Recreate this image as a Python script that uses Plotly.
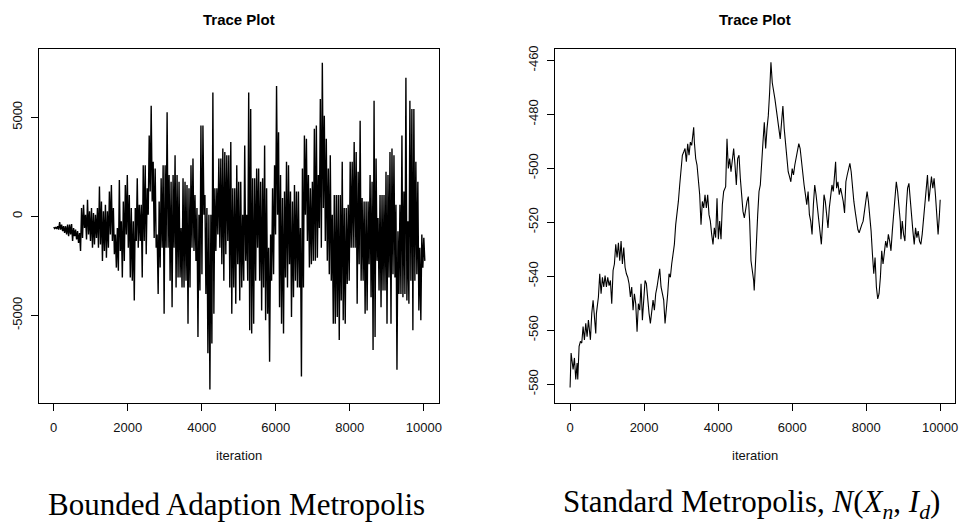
import numpy as np
import plotly.graph_objects as go

# ---------------- data: Bounded Adaption Metropolis (left) ----------------
# per-window upper / lower extent of the trace, 187 windows over 0..10000 iterations
left_hi = [-550, -540, -500, -290, -420, -500, -500, -420, -420, -390, -590, -670, -750, -840, 420, 580,
           80, 830, 250, 420, 170, 80, 420, 1500, 750, 250, 580, 250, 1250, 1580, 420, -920, -590, 1830,
           -250, 750, 1580, 2080, 1080, 420, -250, 420, 1920, 580, 580, 2580,
           2580, 1420, 4080, 5580, 2750, 2420, -920, 750, 1920, 2580, 2580, 5250, 2080, 1750, 2080, 3080,
           2080, 1750, -590, 1920, 1750, 1580, 1420, 2580, 2920, 1080, 420, 80, 4580, 4580, 1080, 420, 80,
           80, 6250, 1420, 1420, 2920, 2920, 3420, 3250, 3080, 3080, 3750, 1420, 1420, 2580,
           1750, 1750, 80, 3580, 80, 6250, 5420, 1920, 1920, 2420, 2420, 1750, 1920, 3580, 1420, -1590,
           -920, 1420, 2580, 6580, 4250, 2080, 920, 1250, 2750, 2580, 1250, 750, 1580, 1250, 1250, -590,
           2420, 4080, 3920, 2080, 1420, 1750, 4420, 4580, 2080, 5920, 7750, 5080, 3920, 2420,
           3080, 80, 1080, 1080, 1080, 1080, 2750, 420, 420, 580, 2750, 2750, 3750, 3250, 2250, 4830, 920,
           750, 750, 750, 2080, 1750, 5830, 2920, -90, 1080, 1080, 1080, 2250, 2080, 3250, 3420, 3080, 580,
           -750, 580, 4080, 1250, 7000, -250, 5830, 5420, 5420, 2750, 1750, -1590, -920, -1090]
left_lo = [-620, -640, -670, -670, -750, -840, -920, -1000, -920, -1250, -1000, -1170, -1340, -1750, -1090,
           -590, -1170, -920, -1250, -1590, -1420, -1090, -1590, -1420, -2250, -1750, -2090, -1590, -920,
           -1250, -1920, -2590, -2750, -1750, -3090, -2250, -920, -1590, -3090, -3250, -4250, -1250, -1590,
           -1250, -3090, -1250,
           -1920, 80, 1250, 750, -1090, -1590, -3920, -2590, -1590, -4920, -1590, -1590, -3250, -4590, -1590,
           -3590, -3090, -3090, -3590, -3590, -3250, -5420, -3590, -1590, -1750, -2250, -6090, -3750, -2920,
           80, -3920, -6920, -8750, -6420, -4920, -1750, -920, -1590, -2420, -3250, -1920, -1250, -3590,
           -4920, -3590, -4420, -2420,
           -4250, -3590, -3250, -2250, -3250, -5750, -5920, -5420, -3250, -1590, -3250, -4750, -3590, -5250,
           -4920, -7340, -3250, -2920, -920, 80, -4590, -5420, -5920, -3090, -3590, -2420, -5090, -4090,
           -3250, -3590, -3590, -8090, -3590, 80, -1250, -2590, -2420, -2250, -2250, -2090, -590, -1590, 420,
           -1250, -2250, -2920,
           -3250, -5420, -5420, -5090, -6250, -4250, -5250, -5420, -3420, -3250, -1590, -1590, -1590, -4420,
           -2420, -3250, -3250, -4920, -4750, -2420, -4090, -6750, -6090, -2250, -3750, -4590, -3750, -3750,
           -5420, -3090, -5420, -2920, -3090, -7750, -3920, -3920, -4090, -3920, -4250, -4420, -3250, -5750,
           -3250, -2920, -4750, -5250, -2590, -2250]

# ---------------- data: Standard Metropolis (right) ----------------
right_iter = [0, 28, 82, 118, 154, 190, 208, 244, 280, 316, 352, 388, 424, 460, 496, 550, 586, 622, 658, 694,
              712, 766, 802, 838, 874, 910, 946, 982, 1018, 1054, 1090, 1126, 1162, 1198, 1234, 1270, 1306,
              1342, 1378, 1414, 1450, 1486, 1522, 1558, 1594, 1630, 1666, 1702, 1738, 1774, 1810, 1846, 1882,
              1918, 1954, 1990, 2026, 2062, 2098, 2134, 2170, 2206, 2242, 2278, 2314, 2350, 2386, 2422, 2458,
              2494, 2530, 2566, 2602, 2638, 2674, 2710, 2746, 2782, 2818, 2854, 2890, 2926, 2962, 2998, 3034,
              3070, 3106, 3142, 3178, 3214, 3250, 3286, 3322, 3340, 3358, 3394, 3430, 3466, 3502, 3538, 3574,
              3610, 3646, 3682, 3718, 3754, 3790, 3826, 3862, 3898, 3934, 3970, 4006, 4042, 4078, 4114, 4150,
              4204, 4240, 4276, 4312, 4348, 4384, 4420, 4456, 4492, 4528, 4564, 4600, 4636, 4672, 4708, 4744,
              4780, 4816, 4852, 4888, 4924, 4960,
              4975, 5000, 5033, 5069, 5105, 5140, 5176, 5212, 5248, 5284, 5320, 5356, 5391, 5427, 5463, 5499,
              5535, 5571, 5606, 5642, 5678, 5714, 5750, 5786, 5821, 5857, 5893, 5929, 5965, 6001, 6036, 6072,
              6108, 6144, 6180, 6216, 6251, 6287, 6323, 6359, 6395, 6431, 6466, 6502, 6538, 6574, 6610, 6646,
              6681, 6717, 6753, 6789, 6825, 6861, 6896, 6932, 6968, 7004, 7040, 7076, 7111, 7147, 7174, 7201,
              7237, 7273, 7309, 7345, 7380, 7416, 7452, 7488, 7524, 7560, 7595, 7631, 7667, 7703, 7739, 7775,
              7810, 7846, 7882, 7918, 7954, 7990, 8025, 8061, 8097, 8133, 8169, 8205, 8240, 8276, 8312, 8348,
              8384, 8420, 8455, 8491, 8527, 8563, 8599, 8635, 8670, 8706, 8742, 8778, 8814, 8850, 8885, 8921,
              8939, 8975, 9011, 9047, 9083, 9119, 9155, 9190, 9226, 9262, 9298, 9334, 9370, 9405, 9441, 9477,
              9513, 9549, 9585, 9620, 9656, 9692, 9728, 9764, 9800, 9835, 9871, 9907, 9943, 9979, 10000]
right_val = [-581.3, -568.5, -574.6, -570.3, -578.3, -572.2, -578.3, -566, -564.2, -564.8, -558.7, -563.6,
             -557.5, -562.4, -556.3, -563.6, -553.8, -548.9, -555, -561.2, -553.8, -547.7, -539.1, -546.5,
             -540.4, -544, -539.8, -544, -540.4, -543.5, -541.6, -550.2, -537.9, -535.5, -528.2, -533.1,
             -527.6, -534.3, -527, -535.5, -529.4, -536.7, -539.1, -540.4, -542.8, -547.7, -544, -552.6,
             -546.5, -550.2, -560.6, -550.2, -552.6, -542.8, -556.3, -548.9, -541.6, -542.8, -548.9, -553.8,
             -557.5, -553.8, -548.9, -552.6, -546.5, -544, -540.4, -537.3, -544, -546.5, -548.9, -557.5,
             -552.6, -546.5, -539.1, -540.4, -535.5, -532.4, -528.2, -520.9, -517.2, -512.3, -506.2, -498.8,
             -495.2, -494, -492.7, -497.6, -490.9, -495.2, -490.3, -491.5, -487.8, -484.8, -490.3, -496.4,
             -498.8, -503.7, -509.8, -520.9, -512.3, -514.7, -509.8, -514.7, -509.8, -517.2, -519.6, -524.5,
             -528.2, -522.1, -525.7, -511.1, -526.3, -519.6, -526.3, -513.5, -508.6, -506.8, -489.1, -500.1,
             -496.4, -501.3, -497.6, -492.7, -498.8, -506.2, -496.4, -495.2, -503.7, -509.8, -516, -518.4,
             -514.7, -512.3, -510.5, -519.6, -534.3, -537.3, -541.6,
             -545.3, -534.3, -528.2, -517.2, -508.6, -506.2, -496.4, -490.3, -483, -492.7, -485.4, -480.5,
             -472, -460.7, -468.3, -470.7, -474.4, -478.1, -481.8, -484.2, -489.1, -483, -476.9, -485.4,
             -491.5, -497.6, -501.3, -503.1, -505, -500.1, -502.5, -498.8, -496.4, -494, -490.9, -492.7,
             -497.6, -503.7, -506.2, -509.8, -513.5, -508.6, -517.2, -519.6, -524.5, -513.5, -506.2, -509.8,
             -514.7, -518.4, -524.5, -528.2, -519.6, -509.8, -512.3, -517.2, -522.1, -514.7, -509.8, -506.2,
             -508.6, -503.7, -497.6, -507.4, -505, -509.8, -507.4, -509.8, -512.3, -516.6, -505, -502.5,
             -500.1, -498.2, -501.3, -507.4, -512.3, -516, -519.6, -522.7, -523.9, -522.1, -520.9, -519.6,
             -516, -512.3, -508.6, -512.3, -517.2, -523.3, -531.8, -539.1, -533.1, -544, -548.4, -546.5,
             -540.4, -530.6, -535.5, -531.8, -527, -529.4, -524.5, -527, -530.6, -523.3, -517.2, -509.8,
             -505, -508.6, -513.5, -519.6, -526.3, -519.6, -524.5, -527, -514.7, -507.4, -505.6, -512.3,
             -517.2, -523.3, -528.2, -522.1, -525.7, -523.3, -527, -528.2, -524.5, -519.6, -514.7, -507.4,
             -502.5, -512.3, -506.2, -503.1, -507.4, -503.7, -509.8, -517.2, -524.5, -517.2, -511.7]

x_ticks = [0, 2000, 4000, 6000, 8000, 10000]
left_y_ticks = [-5000, 0, 5000]
right_y_ticks = [-580, -560, -540, -520, -500, -480, -460]
panel_title = "Trace Plot"
x_label = "iteration"
caption_left = "Bounded Adaption Metropolis"
caption_right = "Standard Metropolis, <i>N</i>(<i>X</i><sub><i>n</i></sub>, <i>I</i><sub><i>d</i></sub>)"

# iteration index of each window (trace x is the iteration counter)
n_win = len(left_hi)
step = 10000 / (n_win - 1)
left_x = []
left_y = []
for k in range(n_win):
    left_x += [k * step, k * step + step * 0.5]
    left_y += [left_hi[k], left_lo[k]]

fig = go.Figure()
fig.add_trace(go.Scatter(x=left_x, y=left_y, mode="lines",
                         line=dict(color="black", width=1.4), xaxis="x", yaxis="y",
                         hoverinfo="skip", showlegend=False))
fig.add_trace(go.Scatter(x=right_iter, y=right_val, mode="lines",
                         line=dict(color="black", width=1.1), xaxis="x2", yaxis="y2",
                         hoverinfo="skip", showlegend=False))

W, H = 960, 525
tickfont = dict(family="Liberation Sans, Arial, sans-serif", size=13, color="#111")
ydom = [1 - 402 / H, 1 - 46 / H]
common = dict(showline=True, linecolor="black", linewidth=1, mirror=True,
              ticks="outside", ticklen=7, tickwidth=1, tickcolor="black",
              showgrid=False, zeroline=False, tickfont=tickfont)

fig.update_layout(
    width=W, height=H,
    margin=dict(l=0, r=0, t=0, b=0),
    paper_bgcolor="white", plot_bgcolor="white",
    xaxis=dict(domain=[39 / W, 440 / W], range=[-400, 10400], tickvals=x_ticks,
               ticktext=[str(v) for v in x_ticks], anchor="y", ticklabelstandoff=6, **common),
    yaxis=dict(domain=ydom, range=[-9412, 8462], tickvals=left_y_ticks,
               ticktext=[str(v) for v in left_y_ticks], tickangle=-90, anchor="x",
               ticklabelstandoff=4, **common),
    xaxis2=dict(domain=[557 / W, 958 / W], range=[-400, 10400], tickvals=x_ticks,
                ticktext=[str(v) for v in x_ticks], anchor="y2", ticklabelstandoff=6, **common),
    yaxis2=dict(domain=ydom, range=[-586.9, -455.7], tickvals=right_y_ticks,
                ticktext=[str(v) for v in right_y_ticks], tickangle=-90, anchor="x2",
                ticklabelstandoff=4, **common),
)

ann_font = dict(family="Liberation Sans, Arial, sans-serif", size=15, color="black")
lab_font = dict(family="Liberation Sans, Arial, sans-serif", size=13, color="#111")
cap_font = dict(family="Liberation Serif, Times New Roman, serif", size=31, color="black")
for cx in [(39 + 440) / 2 / W, (557 + 958) / 2 / W]:
    fig.add_annotation(text="<b>" + panel_title + "</b>", x=cx, y=1 - 17 / H, xref="paper", yref="paper",
                       xanchor="center", yanchor="middle", showarrow=False, font=ann_font)
    fig.add_annotation(text=x_label, x=cx, y=1 - 455 / H, xref="paper", yref="paper",
                       xanchor="center", yanchor="middle", showarrow=False, font=lab_font)

fig.add_annotation(text=caption_left, x=237 / W, y=1 - 504 / H, xref="paper", yref="paper",
                   xanchor="center", yanchor="middle", showarrow=False, font=cap_font)
fig.add_annotation(text=caption_right, x=754 / W, y=1 - 504 / H, xref="paper", yref="paper",
                   xanchor="center", yanchor="middle", showarrow=False, font=cap_font)

fig.write_html("out.html", config={"displayModeBar": False},
               post_script="document.body.style.margin='0';document.body.style.padding='0';"
                           "document.body.style.overflow='hidden';")
